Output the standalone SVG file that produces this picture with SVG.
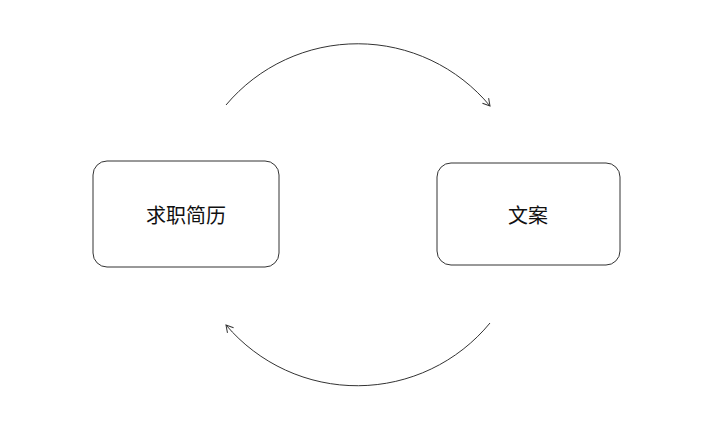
<svg xmlns="http://www.w3.org/2000/svg" width="720" height="435" viewBox="0 0 720 435">
<style>
.box{fill:#fff;stroke:#333;stroke-width:1}
.lbl{font-family:"Noto Sans CJK SC","Noto Sans",sans-serif;font-size:20px;fill:#111;text-anchor:middle;dominant-baseline:central}
.c{fill:none;stroke:#333;stroke-width:1}
</style>
<defs>
<marker id="a" markerWidth="10" markerHeight="10" refX="8" refY="5" orient="auto" markerUnits="userSpaceOnUse">
<path d="M1,1 L8,5 L1,9" fill="none" stroke="#333" stroke-width="1"/>
</marker>
</defs>
<rect width="720" height="435" fill="#fff"/>
<g id="n1"><rect class="box" x="93" y="161" width="186" height="106" rx="14"/><text class="lbl" x="186" y="214">求职简历</text></g>
<g id="n2"><rect class="box" x="437" y="163" width="183" height="102" rx="14"/><text class="lbl" x="528" y="214">文案</text></g>
<g id="connectors">
<path class="c" d="M226,105 A172,172 0 0 1 490,106" marker-end="url(#a)"/>
<path class="c" d="M490,323 A172,172 0 0 1 226,325" marker-end="url(#a)"/>
</g>
</svg>
